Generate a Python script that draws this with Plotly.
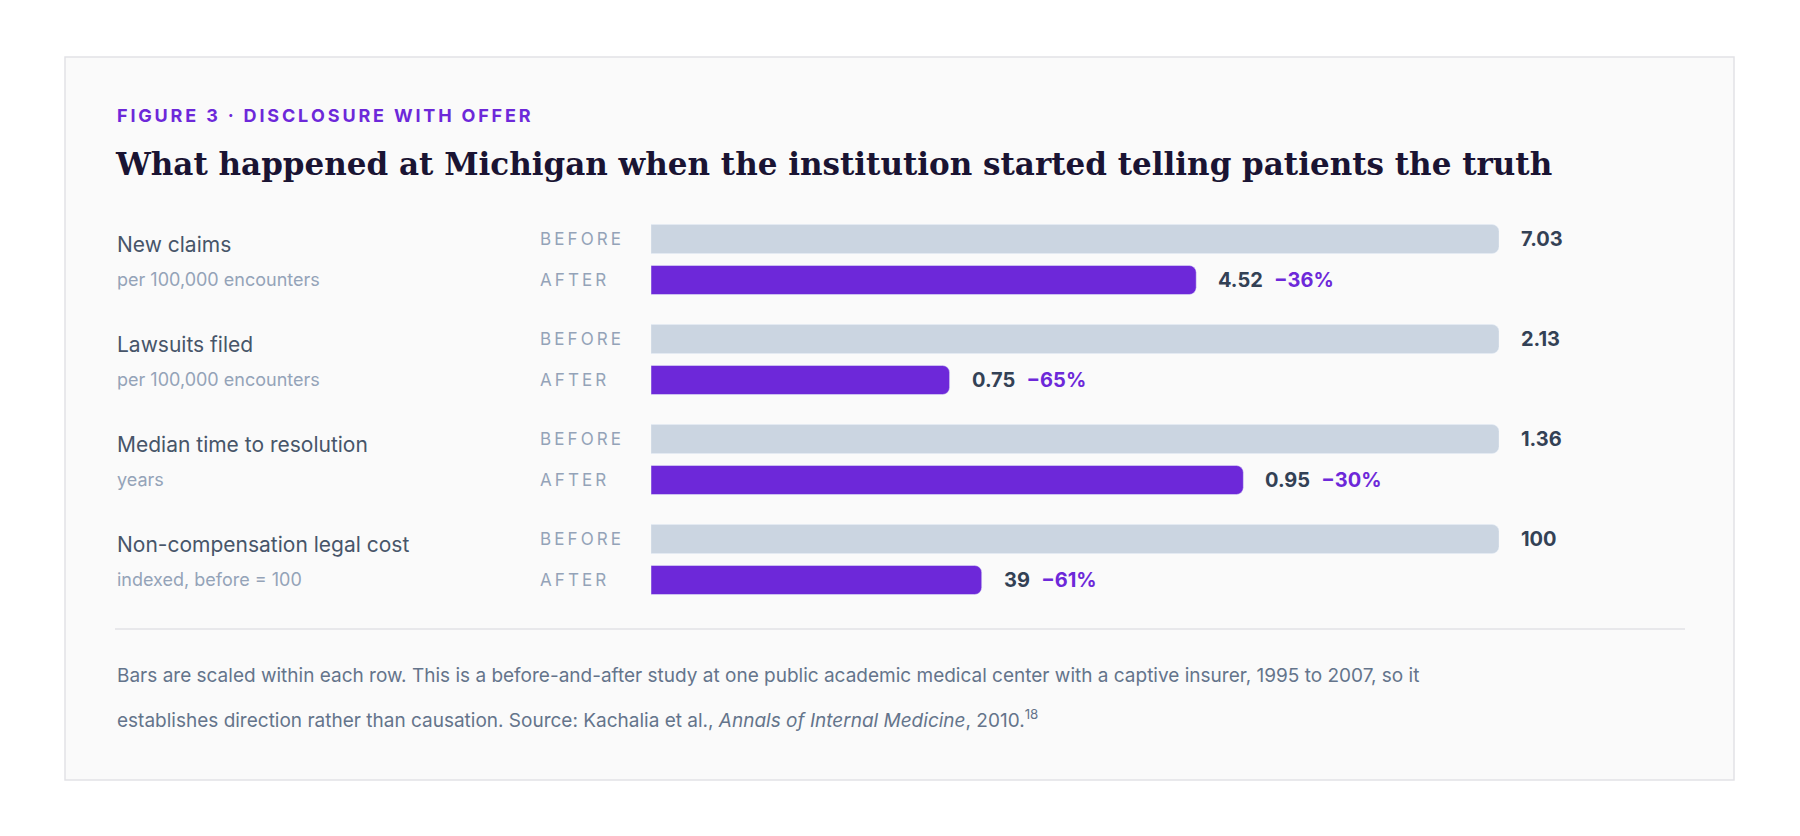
import plotly.graph_objects as go

# ---- data ----
metrics = ["New claims", "Lawsuits filed", "Median time to resolution", "Non-compensation legal cost"]
units = ["per 100,000 encounters", "per 100,000 encounters", "years", "indexed, before = 100"]
before = [7.03, 2.13, 1.36, 100]
after = [4.52, 0.75, 0.95, 39]
before_txt = ["7.03", "2.13", "1.36", "100"]
after_txt = ["4.52", "0.75", "0.95", "39"]
change_txt = ["\u221236%", "\u221265%", "\u221230%", "\u221261%"]

W, H = 1800, 836
PURPLE = "#6D28D9"
GREY_BAR = "#CBD5E1"
SANS = "Inter, Roboto, sans-serif"
DX, DY = -8, -8


def spaced(s):
    """Fake letter-spacing with thin spaces."""
    return "\u2009".join(s)


row0, row_gap, pair_gap = 239 + DY, 100, 41
y_before = [row0 + i * row_gap for i in range(len(metrics))]
y_after = [y + pair_gap for y in y_before]

fig = go.Figure()
# bars scaled within each row (before = 1)
fig.add_trace(go.Bar(x=[1.0] * len(before), y=y_before, orientation="h",
                     width=29, marker_color=GREY_BAR, hoverinfo="skip"))
fig.add_trace(go.Bar(x=[a / b for a, b in zip(after, before)], y=y_after, orientation="h",
                     width=29, marker_color=PURPLE, hoverinfo="skip"))

L = 115 + DX
ann = []
for i in range(len(metrics)):
    ann.append(dict(x=L, y=y_before[i] + 5, xref="paper", yref="y", text=metrics[i],
                    xanchor="left", font=dict(size=21, color="#475569", family=SANS)))
    ann.append(dict(x=L, y=y_after[i] - 1, xref="paper", yref="y", text=units[i],
                    xanchor="left", font=dict(size=18, color="#94A3B8", family=SANS)))
    ann.append(dict(x=538 + DX, y=y_before[i], xref="paper", yref="y", text=spaced("BEFORE"),
                    xanchor="left", font=dict(size=17, color="#94A3B8", family=SANS)))
    ann.append(dict(x=538 + DX, y=y_after[i], xref="paper", yref="y", text=spaced("AFTER"),
                    xanchor="left", font=dict(size=17, color="#94A3B8", family=SANS)))
    ann.append(dict(x=1.0, y=y_before[i], xref="x", yref="y", text=f"<b>{before_txt[i]}</b>",
                    xanchor="left", xshift=20, font=dict(size=20, color="#334155", family=SANS)))
    ann.append(dict(x=after[i] / before[i], y=y_after[i], xref="x", yref="y",
                    text=f"<b>{after_txt[i]}</b>  <b><span style='color:{PURPLE}'>{change_txt[i]}</span></b>",
                    xanchor="left", xshift=20, font=dict(size=20, color="#334155", family=SANS)))

ann += [
    dict(x=L, y=115 + DY, xref="paper", yref="y", text="<b>" + spaced("FIGURE 3 · DISCLOSURE WITH OFFER") + "</b>",
         xanchor="left", font=dict(size=18, color=PURPLE, family=SANS)),
    dict(x=L - 2, y=164 + DY, xref="paper", yref="y",
         text="<b>What happened at Michigan when the institution started telling patients the truth</b>",
         xanchor="left", font=dict(size=31, color="#1A1433", family="DejaVu Serif, serif")),
    dict(x=L, y=667, xref="paper", yref="y",
         text="Bars are scaled within each row. This is a before-and-after study at one public academic medical center with a captive insurer, 1995 to 2007, so it",
         xanchor="left", font=dict(size=19, color="#64748B", family=SANS)),
    dict(x=L, y=711, xref="paper", yref="y",
         text="establishes direction rather than causation. Source: Kachalia et al., <i>Annals of Internal Medicine</i>, 2010.<sup>18</sup>",
         xanchor="left", font=dict(size=19, color="#64748B", family=SANS)),
]
for a in ann:
    a["showarrow"] = False
    if a["xref"] == "paper":
        a["x"] = a["x"] / W

fig.update_layout(
    width=W, height=H, margin=dict(l=0, r=0, t=0, b=0),
    paper_bgcolor="white", plot_bgcolor="rgba(0,0,0,0)",
    barmode="overlay", barcornerradius=7, showlegend=False,
    xaxis=dict(domain=[(651 + DX) / W, (1499 + DX) / W], range=[0, 1], visible=False, fixedrange=True),
    yaxis=dict(domain=[0, 1], range=[H, 0], visible=False, fixedrange=True),
    annotations=ann,
    shapes=[
        dict(type="rect", xref="paper", yref="y", x0=(65 + DX) / W, x1=(1734 + DX) / W,
             y0=57 + DY, y1=780 + DY,
             fillcolor="#FAFAFA", line=dict(color="#E2E2E6", width=1.5), layer="below"),
        dict(type="line", xref="paper", yref="y", x0=(115 + DX) / W, x1=(1685 + DX) / W,
             y0=629 + DY, y1=629 + DY, line=dict(color="#E2E2E6", width=1.5)),
    ],
)

fig.write_html("out.html")
